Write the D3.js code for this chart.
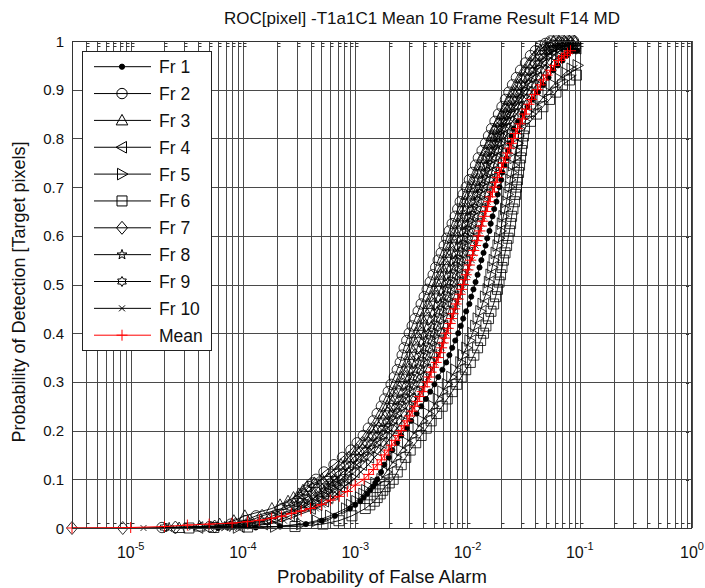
<!DOCTYPE html>
<html><head><meta charset="utf-8">
<script src="https://cdn.jsdelivr.net/npm/d3@7"></script>
<style>body{margin:0;background:#fff;} svg{display:block;font-family:Arial,"Liberation Sans",sans-serif;}</style>
</head><body><svg id="c" width="705" height="588"></svg>
<script>
// [Probability of False Alarm, Probability of Detection]
const fr1 = [[6e-5,0],[1.3e-4,0.001],[2.14e-4,0.003],[3.64e-4,0.008],[5.06e-4,0.015],[6.6e-4,0.025],[8.98e-4,0.04],[1e-3,0.0475],[1.11e-3,0.055],[1.19e-3,0.0625],[1.28e-3,0.07],[1.36e-3,0.0775],[1.45e-3,0.085],[1.51e-3,0.0925],[1.57e-3,0.1],[1.7e-3,0.115],[1.81e-3,0.13],[1.99e-3,0.145],[2.14e-3,0.16],[2.36e-3,0.175],[2.57e-3,0.19],[2.87e-3,0.205],[3.15e-3,0.22],[3.52e-3,0.235],[3.87e-3,0.25],[4.27e-3,0.265],[4.66e-3,0.28],[5.08e-3,0.295],[5.49e-3,0.31],[5.98e-3,0.325],[6.47e-3,0.34],[6.9e-3,0.355],[7.31e-3,0.37],[7.78e-3,0.385],[8.27e-3,0.4],[8.71e-3,0.415],[9.16e-3,0.43],[9.73e-3,0.445],[1.04e-2,0.46],[1.08e-2,0.475],[1.13e-2,0.49],[1.18e-2,0.505],[1.23e-2,0.52],[1.28e-2,0.535],[1.33e-2,0.55],[1.39e-2,0.565],[1.45e-2,0.58],[1.5e-2,0.595],[1.57e-2,0.61],[1.61e-2,0.625],[1.67e-2,0.64],[1.73e-2,0.655],[1.81e-2,0.67],[1.86e-2,0.685],[1.93e-2,0.7],[2e-2,0.715],[2.05e-2,0.73],[2.14e-2,0.745],[2.23e-2,0.76],[2.3e-2,0.775],[2.37e-2,0.79],[2.47e-2,0.805],[2.57e-2,0.82],[2.82e-2,0.835],[3.09e-2,0.85],[3.42e-2,0.865],[3.79e-2,0.88],[4.25e-2,0.895],[4.75e-2,0.91],[5.27e-2,0.925],[5.84e-2,0.94],[6.4e-2,0.95],[7.02e-2,0.96],[7.62e-2,0.97],[8.27e-2,0.98],[8.89e-2,0.98],[9.55e-2,0.98]];
const fr2 = [[1.9e-5,0.001],[5.06e-5,0.003],[7.78e-5,0.008],[1.04e-4,0.015],[1.31e-4,0.025],[2.23e-4,0.04],[2.6e-4,0.0475],[3.03e-4,0.055],[3.22e-4,0.0625],[3.42e-4,0.07],[3.64e-4,0.0775],[3.87e-4,0.085],[4.16e-4,0.0925],[4.47e-4,0.1],[5.27e-4,0.115],[6.47e-4,0.13],[7.7e-4,0.145],[9.16e-4,0.16],[1.04e-3,0.175],[1.18e-3,0.19],[1.31e-3,0.205],[1.45e-3,0.22],[1.57e-3,0.235],[1.71e-3,0.25],[1.83e-3,0.265],[1.97e-3,0.28],[2.09e-3,0.295],[2.23e-3,0.31],[2.37e-3,0.325],[2.52e-3,0.34],[2.62e-3,0.355],[2.73e-3,0.37],[2.88e-3,0.385],[3.03e-3,0.4],[3.22e-3,0.415],[3.42e-3,0.43],[3.64e-3,0.445],[3.87e-3,0.46],[4.12e-3,0.475],[4.38e-3,0.49],[4.66e-3,0.505],[4.95e-3,0.52],[5.21e-3,0.535],[5.49e-3,0.55],[5.84e-3,0.565],[6.21e-3,0.58],[6.53e-3,0.595],[6.88e-3,0.61],[7.31e-3,0.625],[7.78e-3,0.64],[8.19e-3,0.655],[8.62e-3,0.67],[9.16e-3,0.685],[9.75e-3,0.7],[1.04e-2,0.715],[1.11e-2,0.73],[1.18e-2,0.745],[1.25e-2,0.76],[1.35e-2,0.775],[1.45e-2,0.79],[1.54e-2,0.805],[1.64e-2,0.82],[1.76e-2,0.835],[1.89e-2,0.85],[2.03e-2,0.865],[2.18e-2,0.88],[2.34e-2,0.895],[2.52e-2,0.91],[2.73e-2,0.925],[2.97e-2,0.94],[3.29e-2,0.955],[3.64e-2,0.97],[4.03e-2,0.98],[4.47e-2,0.99],[4.95e-2,0.995],[5.49e-2,1],[6.21e-2,1],[7.02e-2,1],[7.94e-2,1],[8.8e-2,1]];
const fr3 = [[2.7e-5,0],[4.1e-5,0.003],[6.2e-5,0.008],[8.3e-5,0.015],[1.04e-4,0.025],[1.81e-4,0.04],[2.14e-4,0.0475],[2.52e-4,0.055],[2.82e-4,0.0625],[3.15e-4,0.07],[3.42e-4,0.0775],[3.72e-4,0.085],[4.33e-4,0.0925],[5.06e-4,0.1],[6.15e-4,0.115],[7.46e-4,0.13],[8.76e-4,0.145],[1.04e-3,0.16],[1.18e-3,0.175],[1.33e-3,0.19],[1.47e-3,0.205],[1.64e-3,0.22],[1.78e-3,0.235],[1.93e-3,0.25],[2.08e-3,0.265],[2.23e-3,0.28],[2.4e-3,0.295],[2.57e-3,0.31],[2.73e-3,0.325],[2.91e-3,0.34],[3.04e-3,0.355],[3.15e-3,0.37],[3.35e-3,0.385],[3.5e-3,0.4],[3.75e-3,0.415],[3.95e-3,0.43],[4.23e-3,0.445],[4.47e-3,0.46],[4.76e-3,0.475],[5.06e-3,0.49],[5.37e-3,0.505],[5.72e-3,0.52],[5.97e-3,0.535],[6.21e-3,0.55],[6.65e-3,0.565],[7.02e-3,0.58],[7.4e-3,0.595],[7.78e-3,0.61],[8.24e-3,0.625],[8.8e-3,0.64],[9.16e-3,0.655],[9.55e-3,0.67],[1.03e-2,0.685],[1.09e-2,0.7],[1.15e-2,0.715],[1.23e-2,0.73],[1.29e-2,0.745],[1.36e-2,0.76],[1.46e-2,0.775],[1.57e-2,0.79],[1.65e-2,0.805],[1.74e-2,0.82],[1.89e-2,0.835],[2.05e-2,0.85],[2.2e-2,0.865],[2.37e-2,0.88],[2.57e-2,0.895],[2.79e-2,0.91],[3.03e-2,0.925],[3.29e-2,0.94],[3.64e-2,0.955],[4.03e-2,0.97],[4.42e-2,0.982],[4.85e-2,0.99],[5.32e-2,0.996],[5.84e-2,1],[6.53e-2,1],[7.31e-2,1],[8.1e-2,1],[8.98e-2,1]];
const fr4 = [[4e-5,0.001],[9.35e-5,0.003],[1.51e-4,0.008],[2.05e-4,0.015],[2.62e-4,0.025],[4.03e-4,0.04],[4.61e-4,0.0475],[5.27e-4,0.055],[5.78e-4,0.0625],[6.33e-4,0.07],[6.81e-4,0.0775],[7.31e-4,0.085],[7.86e-4,0.0925],[8.44e-4,0.1],[9.89e-4,0.115],[1.15e-3,0.13],[1.33e-3,0.145],[1.54e-3,0.16],[1.72e-3,0.175],[1.93e-3,0.19],[2.15e-3,0.205],[2.37e-3,0.22],[2.62e-3,0.235],[2.91e-3,0.25],[3.14e-3,0.265],[3.42e-3,0.28],[3.68e-3,0.295],[3.95e-3,0.31],[4.27e-3,0.325],[4.56e-3,0.34],[4.85e-3,0.355],[5.16e-3,0.37],[5.42e-3,0.385],[5.72e-3,0.4],[6.07e-3,0.415],[6.47e-3,0.43],[6.81e-3,0.445],[7.16e-3,0.46],[7.58e-3,0.475],[7.94e-3,0.49],[8.41e-3,0.505],[8.8e-3,0.52],[9.2e-3,0.535],[9.55e-3,0.55],[1.01e-2,0.565],[1.06e-2,0.58],[1.11e-2,0.595],[1.15e-2,0.61],[1.21e-2,0.625],[1.25e-2,0.64],[1.32e-2,0.655],[1.39e-2,0.67],[1.44e-2,0.685],[1.51e-2,0.7],[1.58e-2,0.715],[1.64e-2,0.73],[1.72e-2,0.745],[1.81e-2,0.76],[1.89e-2,0.775],[1.97e-2,0.79],[2.08e-2,0.805],[2.18e-2,0.82],[2.37e-2,0.835],[2.57e-2,0.85],[2.82e-2,0.865],[3.09e-2,0.88],[3.42e-2,0.895],[3.79e-2,0.91],[4.16e-2,0.925],[4.56e-2,0.94],[5.11e-2,0.955],[5.72e-2,0.97],[6.21e-2,0.976],[6.74e-2,0.98],[7.31e-2,0.983],[7.94e-2,0.985],[8.62e-2,0.985],[9.35e-2,0.985]];
const fr5 = [[9e-5,0.001],[1.93e-4,0.003],[3.29e-4,0.008],[4.56e-4,0.015],[5.96e-4,0.025],[8.27e-4,0.04],[9.16e-4,0.0475],[1.02e-3,0.055],[1.1e-3,0.0625],[1.18e-3,0.07],[1.25e-3,0.0775],[1.33e-3,0.085],[1.51e-3,0.0925],[1.71e-3,0.1],[1.89e-3,0.115],[2.09e-3,0.13],[2.32e-3,0.145],[2.57e-3,0.16],[2.89e-3,0.175],[3.22e-3,0.19],[3.59e-3,0.205],[3.95e-3,0.22],[4.43e-3,0.235],[4.95e-3,0.25],[5.44e-3,0.265],[5.96e-3,0.28],[6.55e-3,0.295],[7.16e-3,0.31],[7.81e-3,0.325],[8.62e-3,0.34],[9.12e-3,0.355],[9.75e-3,0.37],[1.04e-2,0.385],[1.11e-2,0.4],[1.17e-2,0.415],[1.23e-2,0.43],[1.3e-2,0.445],[1.36e-2,0.46],[1.43e-2,0.475],[1.51e-2,0.49],[1.55e-2,0.505],[1.6e-2,0.52],[1.66e-2,0.535],[1.71e-2,0.55],[1.78e-2,0.565],[1.85e-2,0.58],[1.91e-2,0.595],[1.97e-2,0.61],[2.02e-2,0.625],[2.09e-2,0.64],[2.16e-2,0.655],[2.23e-2,0.67],[2.28e-2,0.685],[2.37e-2,0.7],[2.4e-2,0.715],[2.47e-2,0.73],[2.54e-2,0.745],[2.62e-2,0.76],[2.68e-2,0.775],[2.79e-2,0.79],[2.84e-2,0.805],[2.91e-2,0.82],[3.25e-2,0.835],[3.64e-2,0.85],[4.07e-2,0.865],[4.56e-2,0.88],[5.16e-2,0.895],[5.84e-2,0.91],[6.6e-2,0.922],[7.46e-2,0.935],[8.44e-2,0.943],[9.55e-2,0.95]];
const fr6 = [[3.3e-5,0],[5.5e-5,0.001],[1.1e-4,0.002],[2.91e-4,0.003],[5.16e-4,0.008],[7.16e-4,0.015],[9.35e-4,0.025],[1.23e-3,0.04],[1.35e-3,0.0475],[1.48e-3,0.055],[1.57e-3,0.0625],[1.67e-3,0.07],[1.76e-3,0.0775],[1.85e-3,0.085],[2.01e-3,0.0925],[2.18e-3,0.1],[2.37e-3,0.115],[2.57e-3,0.13],[2.82e-3,0.145],[3.09e-3,0.16],[3.46e-3,0.175],[3.87e-3,0.19],[4.29e-3,0.205],[4.75e-3,0.22],[5.32e-3,0.235],[5.96e-3,0.25],[6.6e-3,0.265],[7.31e-3,0.28],[8.02e-3,0.295],[8.8e-3,0.31],[9.65e-3,0.325],[1.06e-2,0.34],[1.14e-2,0.355],[1.23e-2,0.37],[1.31e-2,0.385],[1.39e-2,0.4],[1.46e-2,0.415],[1.54e-2,0.43],[1.62e-2,0.445],[1.71e-2,0.46],[1.78e-2,0.475],[1.85e-2,0.49],[1.91e-2,0.505],[1.97e-2,0.52],[2.03e-2,0.535],[2.09e-2,0.55],[2.16e-2,0.565],[2.23e-2,0.58],[2.3e-2,0.595],[2.37e-2,0.61],[2.42e-2,0.625],[2.47e-2,0.64],[2.54e-2,0.655],[2.62e-2,0.67],[2.68e-2,0.685],[2.73e-2,0.7],[2.79e-2,0.715],[2.85e-2,0.73],[2.91e-2,0.745],[2.97e-2,0.76],[3.03e-2,0.775],[3.09e-2,0.79],[3.15e-2,0.805],[3.22e-2,0.82],[3.64e-2,0.835],[4.12e-2,0.85],[4.7e-2,0.865],[5.38e-2,0.88],[6.14e-2,0.895],[7.02e-2,0.91],[8.1e-2,0.92],[9.35e-2,0.93]];
const fr7 = [[3e-6,0],[8.5e-6,0],[2.5e-5,0.001],[5.6e-5,0.003],[8.62e-5,0.008],[1.15e-4,0.015],[1.48e-4,0.025],[2.47e-4,0.04],[2.85e-4,0.0475],[3.29e-4,0.055],[3.68e-4,0.0625],[4.12e-4,0.07],[4.42e-4,0.0775],[4.75e-4,0.085],[5.21e-4,0.0925],[5.72e-4,0.1],[6.89e-4,0.115],[8.27e-4,0.13],[9.71e-4,0.145],[1.15e-3,0.16],[1.29e-3,0.175],[1.45e-3,0.19],[1.62e-3,0.205],[1.78e-3,0.22],[1.96e-3,0.235],[2.14e-3,0.25],[2.31e-3,0.265],[2.47e-3,0.28],[2.67e-3,0.295],[2.85e-3,0.31],[3.05e-3,0.325],[3.29e-3,0.34],[3.42e-3,0.355],[3.57e-3,0.37],[3.77e-3,0.385],[3.95e-3,0.4],[4.22e-3,0.415],[4.47e-3,0.43],[4.75e-3,0.445],[5.06e-3,0.46],[5.36e-3,0.475],[5.72e-3,0.49],[6e-3,0.505],[6.33e-3,0.52],[6.65e-3,0.535],[7.02e-3,0.55],[7.37e-3,0.565],[7.78e-3,0.58],[8.19e-3,0.595],[8.62e-3,0.61],[9.05e-3,0.625],[9.55e-3,0.64],[1.01e-2,0.655],[1.06e-2,0.67],[1.12e-2,0.685],[1.18e-2,0.7],[1.24e-2,0.715],[1.31e-2,0.73],[1.39e-2,0.745],[1.48e-2,0.76],[1.56e-2,0.775],[1.67e-2,0.79],[1.75e-2,0.805],[1.85e-2,0.82],[2.01e-2,0.835],[2.18e-2,0.85],[2.34e-2,0.865],[2.52e-2,0.88],[2.73e-2,0.895],[2.97e-2,0.91],[3.25e-2,0.925],[3.57e-2,0.94],[3.99e-2,0.955],[4.47e-2,0.97],[4.85e-2,0.978],[5.27e-2,0.985],[5.78e-2,0.99],[6.33e-2,0.995],[6.95e-2,0.995],[7.62e-2,0.995],[8.36e-2,0.995],[9.16e-2,0.995]];
const fr8 = [[2.2e-5,0.001],[6.88e-5,0.003],[1.09e-4,0.008],[1.48e-4,0.015],[1.85e-4,0.025],[3.03e-4,0.04],[3.46e-4,0.0475],[3.95e-4,0.055],[4.38e-4,0.0625],[4.85e-4,0.07],[5.27e-4,0.0775],[5.72e-4,0.085],[6.14e-4,0.0925],[6.6e-4,0.1],[7.78e-4,0.115],[9.16e-4,0.13],[1.08e-3,0.145],[1.25e-3,0.16],[1.42e-3,0.175],[1.6e-3,0.19],[1.78e-3,0.205],[1.97e-3,0.22],[2.16e-3,0.235],[2.37e-3,0.25],[2.56e-3,0.265],[2.79e-3,0.28],[2.97e-3,0.295],[3.15e-3,0.31],[3.41e-3,0.325],[3.64e-3,0.34],[3.84e-3,0.355],[4.03e-3,0.37],[4.26e-3,0.385],[4.47e-3,0.4],[4.76e-3,0.415],[5.06e-3,0.43],[5.37e-3,0.445],[5.72e-3,0.46],[6.02e-3,0.475],[6.33e-3,0.49],[6.71e-3,0.505],[7.02e-3,0.52],[7.43e-3,0.535],[7.78e-3,0.55],[8.19e-3,0.565],[8.62e-3,0.58],[9.05e-3,0.595],[9.55e-3,0.61],[1e-2,0.625],[1.06e-2,0.64],[1.1e-2,0.655],[1.15e-2,0.67],[1.22e-2,0.685],[1.28e-2,0.7],[1.35e-2,0.715],[1.42e-2,0.73],[1.49e-2,0.745],[1.57e-2,0.76],[1.66e-2,0.775],[1.78e-2,0.79],[1.85e-2,0.805],[1.97e-2,0.82],[2.11e-2,0.835],[2.27e-2,0.85],[2.49e-2,0.865],[2.73e-2,0.88],[2.97e-2,0.895],[3.22e-2,0.91],[3.53e-2,0.925],[3.87e-2,0.94],[4.33e-2,0.955],[4.85e-2,0.97],[5.32e-2,0.979],[5.84e-2,0.985],[6.53e-2,0.988],[7.31e-2,0.99],[8.1e-2,0.99],[8.98e-2,0.99]];
const fr9 = [[2e-5,0.001],[7.62e-5,0.003],[1.2e-4,0.008],[1.64e-4,0.015],[2.09e-4,0.025],[3.29e-4,0.04],[3.79e-4,0.0475],[4.38e-4,0.055],[4.85e-4,0.0625],[5.38e-4,0.07],[5.78e-4,0.0775],[6.21e-4,0.085],[6.81e-4,0.0925],[7.46e-4,0.1],[8.76e-4,0.115],[1.04e-3,0.13],[1.2e-3,0.145],[1.39e-3,0.16],[1.57e-3,0.175],[1.78e-3,0.19],[1.96e-3,0.205],[2.18e-3,0.22],[2.38e-3,0.235],[2.62e-3,0.25],[2.84e-3,0.265],[3.09e-3,0.28],[3.31e-3,0.295],[3.57e-3,0.31],[3.82e-3,0.325],[4.12e-3,0.34],[4.32e-3,0.355],[4.56e-3,0.37],[4.8e-3,0.385],[5.06e-3,0.4],[5.38e-3,0.415],[5.72e-3,0.43],[6.05e-3,0.445],[6.33e-3,0.46],[6.77e-3,0.475],[7.16e-3,0.49],[7.51e-3,0.505],[7.94e-3,0.52],[8.25e-3,0.535],[8.62e-3,0.55],[9.09e-3,0.565],[9.55e-3,0.58],[1e-2,0.595],[1.04e-2,0.61],[1.1e-2,0.625],[1.15e-2,0.64],[1.21e-2,0.655],[1.25e-2,0.67],[1.32e-2,0.685],[1.39e-2,0.7],[1.46e-2,0.715],[1.54e-2,0.73],[1.6e-2,0.745],[1.67e-2,0.76],[1.77e-2,0.775],[1.89e-2,0.79],[1.96e-2,0.805],[2.05e-2,0.82],[2.23e-2,0.835],[2.42e-2,0.85],[2.65e-2,0.865],[2.91e-2,0.88],[3.19e-2,0.895],[3.5e-2,0.91],[3.83e-2,0.925],[4.2e-2,0.94],[4.7e-2,0.955],[5.27e-2,0.97],[5.78e-2,0.978],[6.33e-2,0.985],[6.95e-2,0.988],[7.62e-2,0.99],[8.44e-2,0.99],[9.35e-2,0.99]];
const fr10 = [[1.3e-5,0],[3.5e-5,0.001],[1.04e-4,0.003],[1.71e-4,0.008],[2.32e-4,0.015],[2.97e-4,0.025],[4.47e-4,0.04],[5.11e-4,0.0475],[5.84e-4,0.055],[6.33e-4,0.0625],[6.88e-4,0.07],[7.39e-4,0.0775],[7.94e-4,0.085],[8.8e-4,0.0925],[9.75e-4,0.1],[1.12e-3,0.115],[1.31e-3,0.13],[1.48e-3,0.145],[1.71e-3,0.16],[1.9e-3,0.175],[2.14e-3,0.19],[2.37e-3,0.205],[2.62e-3,0.22],[2.89e-3,0.235],[3.22e-3,0.25],[3.48e-3,0.265],[3.79e-3,0.28],[4.1e-3,0.295],[4.47e-3,0.31],[4.78e-3,0.325],[5.16e-3,0.34],[5.47e-3,0.355],[5.84e-3,0.37],[6.12e-3,0.385],[6.47e-3,0.4],[6.85e-3,0.415],[7.31e-3,0.43],[7.67e-3,0.445],[8.1e-3,0.46],[8.53e-3,0.475],[8.98e-3,0.49],[9.41e-3,0.505],[1e-2,0.52],[1.03e-2,0.535],[1.09e-2,0.55],[1.13e-2,0.565],[1.18e-2,0.58],[1.23e-2,0.595],[1.28e-2,0.61],[1.33e-2,0.625],[1.39e-2,0.64],[1.45e-2,0.655],[1.51e-2,0.67],[1.57e-2,0.685],[1.64e-2,0.7],[1.71e-2,0.715],[1.78e-2,0.73],[1.85e-2,0.745],[1.93e-2,0.76],[2.02e-2,0.775],[2.14e-2,0.79],[2.2e-2,0.805],[2.32e-2,0.82],[2.52e-2,0.835],[2.73e-2,0.85],[3.03e-2,0.865],[3.35e-2,0.88],[3.72e-2,0.895],[4.12e-2,0.91],[4.51e-2,0.925],[4.95e-2,0.94],[5.38e-2,0.95],[5.84e-2,0.96],[6.33e-2,0.965],[6.88e-2,0.97],[7.39e-2,0.976],[7.94e-2,0.98],[8.62e-2,0.98],[9.35e-2,0.98]];
const meanCurve = [[3e-6,0],[1e-5,0.001],[2e-5,0.003],[3.2e-5,0.006],[5e-5,0.008],[8e-5,0.01],[1.1e-4,0.013],[1.4e-4,0.016],[1.8e-4,0.02],[2.2e-4,0.024],[2.7e-4,0.03],[3.3e-4,0.035],[4e-4,0.04],[5e-4,0.048],[6e-4,0.057],[7.2e-4,0.065],[8.5e-4,0.075],[1e-3,0.088],[1.2e-3,0.1],[1.32e-3,0.11],[1.45e-3,0.12],[1.57e-3,0.13],[1.71e-3,0.14],[1.83e-3,0.15],[1.97e-3,0.16],[2.11e-3,0.17],[2.27e-3,0.18],[2.42e-3,0.19],[2.57e-3,0.2],[2.73e-3,0.21],[2.91e-3,0.22],[3.06e-3,0.23],[3.22e-3,0.24],[3.39e-3,0.25],[3.57e-3,0.26],[3.75e-3,0.27],[3.95e-3,0.28],[4.16e-3,0.29],[4.38e-3,0.3],[4.56e-3,0.31],[4.75e-3,0.32],[5e-3,0.33],[5.27e-3,0.34],[5.49e-3,0.35],[5.72e-3,0.36],[5.89e-3,0.37],[6.08e-3,0.38],[6.27e-3,0.39],[6.47e-3,0.4],[6.74e-3,0.41],[7.02e-3,0.42],[7.24e-3,0.43],[7.46e-3,0.44],[7.7e-3,0.45],[7.94e-3,0.46],[8.27e-3,0.47],[8.62e-3,0.48],[8.89e-3,0.49],[9.16e-3,0.5],[9.45e-3,0.51],[9.75e-3,0.52],[1.01e-2,0.53],[1.04e-2,0.54],[1.07e-2,0.55],[1.11e-2,0.56],[1.14e-2,0.57],[1.18e-2,0.58],[1.22e-2,0.59],[1.25e-2,0.6],[1.29e-2,0.61],[1.33e-2,0.62],[1.37e-2,0.63],[1.42e-2,0.64],[1.46e-2,0.65],[1.51e-2,0.66],[1.55e-2,0.67],[1.6e-2,0.68],[1.67e-2,0.69],[1.74e-2,0.7],[1.79e-2,0.71],[1.85e-2,0.72],[1.93e-2,0.73],[2.01e-2,0.74],[2.09e-2,0.75],[2.18e-2,0.76],[2.27e-2,0.77],[2.37e-2,0.78],[2.47e-2,0.79],[2.57e-2,0.8],[2.68e-2,0.81],[2.79e-2,0.82],[2.94e-2,0.83],[3.09e-2,0.84],[3.22e-2,0.85],[3.35e-2,0.86],[3.53e-2,0.87],[3.72e-2,0.88],[3.95e-2,0.89],[4.2e-2,0.9],[4.47e-2,0.91],[4.75e-2,0.92],[5.11e-2,0.93],[5.49e-2,0.94],[5.96e-2,0.95],[6.47e-2,0.96],[6.88e-2,0.965],[7.31e-2,0.97],[7.78e-2,0.975],[8.27e-2,0.98]];

const seriesNames = ["Fr 1","Fr 2","Fr 3","Fr 4","Fr 5","Fr 6","Fr 7","Fr 8","Fr 9","Fr 10","Mean"];
const seriesMarkers = ["dot","circle","triUp","triLeft","triRight","square","diamond","pentagram","hexagram","x","plus"];
const xTickExponents = [-5,-4,-3,-2,-1,0];
const yTickValues = [0,0.1,0.2,0.3,0.4,0.5,0.6,0.7,0.8,0.9,1];
const yTickLabels = ["0","0.1","0.2","0.3","0.4","0.5","0.6","0.7","0.8","0.9","1"];
const titleText = "ROC[pixel] -T1a1C1 Mean 10 Frame Result F14 MD";
const xLabelText = "Probability of False Alarm";
const yLabelText = "Probability of Detection [Target pixels]";

const allSeries = [fr1,fr2,fr3,fr4,fr5,fr6,fr7,fr8,fr9,fr10,meanCurve];

const L = 72, R = 692, T = 41, B = 528;
const svg = d3.select("#c");
const x = d3.scaleLog().domain([3e-6, 1]).range([L, R]);
const y = d3.scaleLinear().domain([0, 1]).range([B, T]);

const gridColor = "#4a4a4a";
const g = svg.append("g");
const xt = x.ticks();
g.selectAll("line.vg").data(xt).join("line")
  .attr("x1", d => Math.round(x(d)) + 0.5).attr("x2", d => Math.round(x(d)) + 0.5)
  .attr("y1", T).attr("y2", B).attr("stroke", gridColor).attr("stroke-width", 1);
g.selectAll("line.hg").data(yTickValues).join("line")
  .attr("x1", L).attr("x2", R)
  .attr("y1", d => Math.round(y(d)) + 0.5).attr("y2", d => Math.round(y(d)) + 0.5)
  .attr("stroke", gridColor).attr("stroke-width", 1);
g.selectAll("path.stub").data(xt.filter(d => d > 3e-6 && d < 1)).join("path")
  .attr("d", d => { const px = Math.round(x(d)) + 0.5; return `M${px},${T+2.5}h3M${px},${T+5.5}h3M${px},${B-4.5}h3`; })
  .attr("stroke", "#333").attr("stroke-width", 1).attr("fill", "none");
g.selectAll("path.rstub").data(yTickValues.filter(d => d > 0 && d < 1)).join("path")
  .attr("d", d => `M${R-6},${Math.round(y(d)) + 1.5}h3`)
  .attr("stroke", "#333").attr("stroke-width", 1);

function markerPath(type) {
  switch (type) {
    case "circle": return d3.symbol(d3.symbolCircle, Math.PI * 5.2 * 5.2)();
    case "dot": return d3.symbol(d3.symbolCircle, Math.PI * 2.6 * 2.6)();
    case "square": return "M-5,-5H5V5H-5Z";
    case "triUp": return "M0,-6L5.8,4.5L-5.8,4.5Z";
    case "triLeft": return "M-6,0L4.5,-5.8L4.5,5.8Z";
    case "triRight": return "M6,0L-4.5,-5.8L-4.5,5.8Z";
    case "diamond": return "M0,-6.5L5.5,0L0,6.5L-5.5,0Z";
    case "pentagram": {
      let p = "";
      for (let i = 0; i < 10; i++) {
        const r = i % 2 ? 2.1 : 5.2, a = -Math.PI / 2 + i * Math.PI / 5;
        p += (i ? "L" : "M") + (r * Math.cos(a)).toFixed(2) + "," + (r * Math.sin(a)).toFixed(2);
      }
      return p + "Z";
    }
    case "hexagram": {
      let p = "";
      for (let i = 0; i < 12; i++) {
        const r = i % 2 ? 2.9 : 5, a = -Math.PI / 2 + i * Math.PI / 6;
        p += (i ? "L" : "M") + (r * Math.cos(a)).toFixed(2) + "," + (r * Math.sin(a)).toFixed(2);
      }
      return p + "Z";
    }
    case "x": return "M-3,-3L3,3M-3,3L3,-3";
    case "plus": return "M-5.5,0H5.5M0,-5.5V5.5";
  }
}

const line = d3.line().x(d => x(d[0])).y(d => y(d[1]));
const plot = svg.append("g");
allSeries.forEach((s, i) => {
  const isMean = i === 10;
  const col = isMean ? "#ff0000" : "#000";
  const sg = plot.append("g");
  sg.append("path").attr("d", line(s)).attr("fill", "none")
    .attr("stroke", col).attr("stroke-width", isMean ? 1 : 0.9);
  const type = seriesMarkers[i];
  sg.selectAll("path.m").data(s).join("path")
    .attr("transform", d => `translate(${x(d[0])},${y(d[1])})`)
    .attr("d", markerPath(type))
    .attr("fill", type === "dot" ? "#000" : "none")
    .attr("stroke", col).attr("stroke-width", isMean ? 1 : 0.85)
    .attr("stroke-opacity", isMean ? 1 : 0.95);
});

svg.append("rect").attr("x", L + 0.5).attr("y", T + 0.5).attr("width", R - L - 1).attr("height", B - T)
  .attr("fill", "none").attr("stroke", "#333").attr("stroke-width", 1);

svg.selectAll("text.yt").data(yTickValues).join("text")
  .attr("x", 64).attr("y", d => y(d) + 5.5).attr("text-anchor", "end")
  .attr("font-size", 15).attr("fill", "#111").text((d, i) => yTickLabels[i]);
const xtl = svg.selectAll("text.xt").data(xTickExponents).join("text")
  .attr("x", d => x(Math.pow(10, d))).attr("y", 558).attr("text-anchor", "middle")
  .attr("font-size", 16).attr("fill", "#111");
xtl.append("tspan").text("10");
xtl.append("tspan").attr("dy", -8).attr("font-size", 11).text(d => String(d));

svg.append("text").attr("x", 422).attr("y", 24).attr("text-anchor", "middle")
  .attr("font-size", 17).attr("fill", "#111").text(titleText);
svg.append("text").attr("x", (L + R) / 2).attr("y", 583).attr("text-anchor", "middle")
  .attr("font-size", 18.5).attr("fill", "#111").text(xLabelText);
svg.append("text").attr("transform", `translate(25,292) rotate(-90)`).attr("text-anchor", "middle")
  .attr("font-size", 18).attr("fill", "#111").text(yLabelText);

const lg = svg.append("g");
lg.append("rect").attr("x", 82.5).attr("y", 51.5).attr("width", 129).attr("height", 299)
  .attr("fill", "#fff").attr("stroke", "#222").attr("stroke-width", 1);
seriesNames.forEach((name, i) => {
  const yy = 66.7 + i * 26.85;
  const isMean = i === 10;
  const col = isMean ? "#ff0000" : "#000";
  lg.append("line").attr("x1", 94).attr("x2", 151).attr("y1", yy).attr("y2", yy)
    .attr("stroke", col).attr("stroke-width", 1);
  const type = seriesMarkers[i];
  lg.append("path").attr("transform", `translate(122,${yy})`).attr("d", markerPath(type))
    .attr("fill", type === "dot" ? "#000" : "none").attr("stroke", col).attr("stroke-width", 1);
  lg.append("text").attr("x", 159).attr("y", yy + 6.5).attr("font-size", 17.5).attr("fill", "#111").text(name);
});
</script></body></html>
